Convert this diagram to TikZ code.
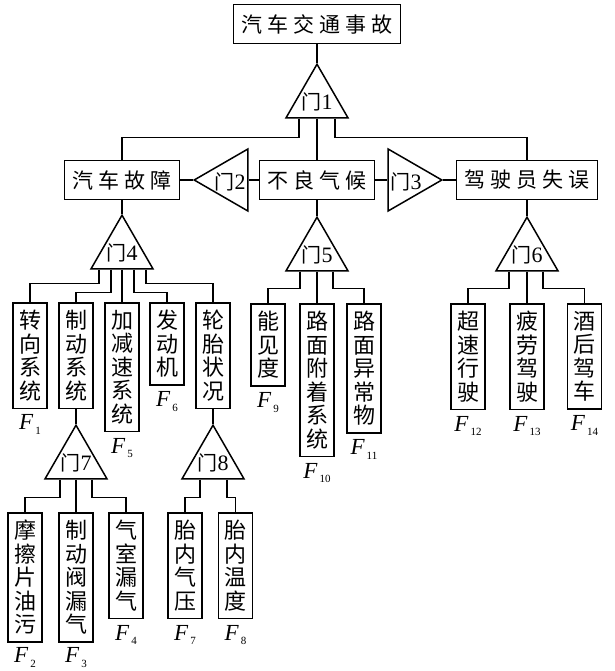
\documentclass[tikz,border=0pt]{standalone}
\usepackage{fontspec}
\setmainfont{Liberation Serif}
\newfontfamily\cjk{Noto Sans CJK SC}
\usetikzlibrary{positioning,shapes.geometric}

\newcommand\gp{\hspace{5pt}}
\newcommand\gatetext[1]{\smash{\makebox[0pt]{\raisebox{-0.42em}{{\cjk\fontsize{20}{20}\selectfont 门}#1}}}}
\newcommand\Fsub[1]{\textit{F}\raisebox{-0.2em}{\fontsize{11}{11}\selectfont\,#1}}

\begin{document}
\begin{tikzpicture}[x=1pt,y=-1pt,line width=1.5pt,
    hbox/.style={draw,rectangle,font=\cjk\fontsize{21}{24}\selectfont,inner xsep=8pt,inner ysep=0pt,minimum height=39pt},
    vbox/.style={draw,rectangle,anchor=north,font=\cjk\fontsize{22}{23.5}\selectfont,align=center,inner xsep=0pt,inner ysep=7.5pt,minimum width=34pt},
    gate/.style={draw,regular polygon,regular polygon sides=3,minimum size=71.6pt,inner sep=0pt,font=\fontsize{22}{22}\selectfont},
    flabel/.style={font=\fontsize{23}{23}\selectfont,inner sep=0pt}]
    \useasboundingbox (0,0) rectangle (614,671);

    % top event and first gate
    \node[hbox] (accident) at (317,24) {汽\gp 车\gp 交\gp 通\gp 事\gp 故};
    \node[gate] (g1) at (317,100) {\gatetext{1}};

    % middle events
    \node[hbox] (carfault) at (122,180) {汽\gp 车\gp 故\gp 障};
    \node[hbox] (weather) at (317,180) {不\gp 良\gp 气\gp 候};
    \node[hbox] (driver) at (527,180) {驾\gp 驶\gp 员\gp 失\gp 误};
    \node[gate,shape border rotate=90] (g2) at (230,180) {\gatetext{2}};
    \node[gate,shape border rotate=-90] (g3) at (406,180) {\gatetext{3}};

    \node[gate] (g4) at (122,251) {\gatetext{4}};
    \node[gate] (g5) at (317,253) {\gatetext{5}};
    \node[gate] (g6) at (527,253) {\gatetext{6}};

    % basic events
    \node[vbox] (steer) at (30,302) {转\\向\\系\\统};
    \node[vbox] (brake) at (76,302) {制\\动\\系\\统};
    \node[vbox] (accel) at (122,302) {加\\减\\速\\系\\统};
    \node[vbox] (engine) at (167,302) {发\\动\\机};
    \node[vbox] (tyre) at (213,302) {轮\\胎\\状\\况};
    \node[vbox] (visib) at (268,303) {能\\见\\度};
    \node[vbox] (adhes) at (317,303) {路\\面\\附\\着\\系\\统};
    \node[vbox] (obstacle) at (364,303) {路\\面\\异\\常\\物};
    \node[vbox] (speeding) at (468,303) {超\\速\\行\\驶};
    \node[vbox] (fatigue) at (527,303) {疲\\劳\\驾\\驶};
    \node[vbox] (drunk) at (584.5,303) {酒\\后\\驾\\车};

    \node[gate] (g7) at (76,461) {\gatetext{7}};
    \node[gate] (g8) at (213,461) {\gatetext{8}};
    \node[vbox] (padoil) at (25,512) {摩\\擦\\片\\油\\污};
    \node[vbox] (valve) at (76,512) {制\\动\\阀\\漏\\气};
    \node[vbox] (chamber) at (126,512) {气\\室\\漏\\气};
    \node[vbox] (tpress) at (185,512) {胎\\内\\气\\压};
    \node[vbox] (ttemp) at (235.5,512) {胎\\内\\温\\度};

    % F labels
    \node[flabel,below=5pt of steer] (f1) {\Fsub{1}};
    \node[flabel,below=4pt of padoil] (f2) {\Fsub{2}};
    \node[flabel,below=4pt of valve] (f3) {\Fsub{3}};
    \node[flabel,below=5pt of chamber] (f4) {\Fsub{4}};
    \node[flabel,below=5pt of accel] (f5) {\Fsub{5}};
    \node[flabel,below=5pt of engine] (f6) {\Fsub{6}};
    \node[flabel,below=5pt of tpress] (f7) {\Fsub{7}};
    \node[flabel,below=5pt of ttemp] (f8) {\Fsub{8}};
    \node[flabel,below=5pt of visib] (f9) {\Fsub{9}};
    \node[flabel,below=5pt of adhes] (f10) {\Fsub{10}};
    \node[flabel,below=5pt of obstacle] (f11) {\Fsub{11}};
    \node[flabel,below=5pt of speeding] (f12) {\Fsub{12}};
    \node[flabel,below=5pt of fatigue] (f13) {\Fsub{13}};
    \node[flabel,below=5pt of drunk] (f14) {\Fsub{14}};

    % connectors
    \draw (accident.south) -- (g1.corner 1);
    \draw ([xshift=-18pt]g1.south) -- ++(0,19) -| (carfault.north);
    \draw (g1.south) -- (weather.north);
    \draw ([xshift=18pt]g1.south) -- ++(0,19) -| (driver.north);
    \draw (carfault.east) -- (g2.corner 1);
    \draw (g2.east) -- (weather.west);
    \draw (weather.east) -- (g3.west);
    \draw (g3.corner 1) -- (driver.west);
    \draw (carfault.south) -- (g4.corner 1);
    \draw (weather.south) -- (g5.corner 1);
    \draw (driver.south) -- (g6.corner 1);

    \draw ([xshift=-23pt]g4.south) -- ++(0,14) -| (steer.north);
    \draw ([xshift=-11pt]g4.south) -- ++(0,23) -| (brake.north);
    \draw (g4.south) -- (accel.north);
    \draw ([xshift=12pt]g4.south) -- ++(0,23) -| (engine.north);
    \draw ([xshift=24pt]g4.south) -- ++(0,14) -| (tyre.north);

    \draw ([xshift=-17pt]g5.south) -- ++(0,17) -| (visib.north);
    \draw (g5.south) -- (adhes.north);
    \draw ([xshift=16pt]g5.south) -- ++(0,17) -| (obstacle.north);

    \draw ([xshift=-18pt]g6.south) -- ++(0,17) -| (speeding.north);
    \draw (g6.south) -- (fatigue.north);
    \draw ([xshift=16pt]g6.south) -- ++(0,17) -| (drunk.north);

    \draw (brake.south) -- (g7.corner 1);
    \draw (tyre.south) -- (g8.corner 1);
    \draw ([xshift=-16pt]g7.south) -- ++(0,18) -| (padoil.north);
    \draw (g7.south) -- (valve.north);
    \draw ([xshift=16pt]g7.south) -- ++(0,18) -| (chamber.north);
    \draw ([xshift=-13pt]g8.south) -- ++(0,18) -| (tpress.north);
    \draw ([xshift=14pt]g8.south) -- ++(0,18) -| (ttemp.north);
\end{tikzpicture}
\end{document}
